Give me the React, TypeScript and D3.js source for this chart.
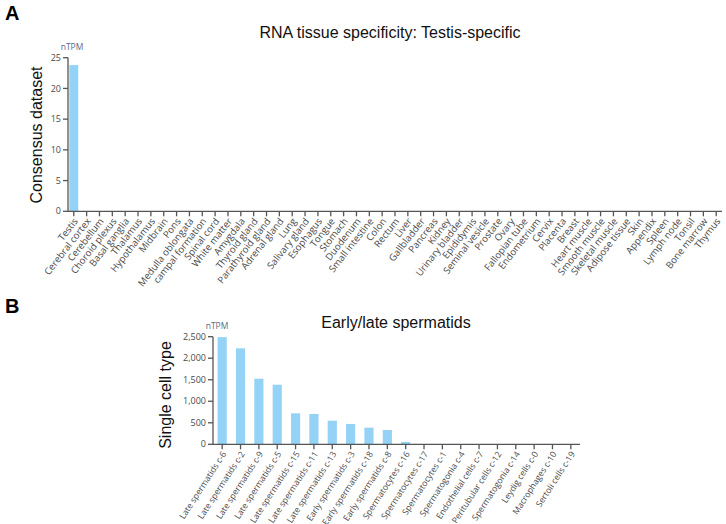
import React from "react";
import * as d3 from "d3";

const tissues = ["Testis","Cerebral cortex","Cerebellum","Choroid plexus","Basal ganglia","Thalamus","Hypothalamus","Midbrain","Pons","Medulla oblongata","campal formation","Spinal cord","White matter","Amygdala","Thyroid gland","Parathyroid gland","Adrenal gland","Lung","Salivary gland","Esophagus","Tongue","Stomach","Duodenum","Small intestine","Colon","Rectum","Liver","Gallbladder","Pancreas","Kidney","Urinary bladder","Epididymis","Seminal vesicle","Prostate","Ovary","Fallopian tube","Endometrium","Cervix","Placenta","Breast","Heart muscle","Smooth muscle","Skeletal muscle","Adipose tissue","Skin","Appendix","Spleen","Lymph node","Tonsil","Bone marrow","Thymus"];
const tissueValues = [23.8,0,0,0,0,0,0,0,0,0,0,0,0,0,0,0,0,0,0,0,0,0,0,0,0,0,0,0,0,0,0,0,0,0,0,0,0,0,0,0,0,0,0,0,0,0,0,0,0,0,0];
const tissueTicks = [0,5,10,15,20,25];

const cells = ["Late spermatids c-6","Late spermatids c-2","Late spermatids c-9","Late spermatids c-5","Late spermatids c-15","Late spermatids c-11","Late spermatids c-13","Early spermatids c-3","Early spermatids c-18","Early spermatids c-8","Spermatocytes c-16","Spermatocytes c-17","Spermatocytes c-1","Spermatogonia c-4","Endothelial cells c-7","Peritubular cells c-12","Spermatogonia c-14","Leydig cells c-0","Macrophages c-10","Sertoli cells c-19"];
const cellValues = [2490,2230,1524,1385,720,705,548,472,386,332,55,0,0,0,0,0,0,0,0,0];
const cellTicks = [0,500,1000,1500,2000,2500];

const BAR = "#94d3f6";
const AXIS = "#555";
const TXT = "#4a4a4a";
const LBL_FONT = "'Open Sans', 'DejaVu Sans', sans-serif";
const MAIN_FONT = "'Liberation Sans', Arial, sans-serif";

type PanelProps = {
  cats: string[]; vals: number[]; ticks: number[]; domainMax: number;
  x0: number; x1: number; yTop: number; yBottom: number;
  padIn: number; padOut: number; angle: number; fmt: (v: number) => string;
  labelSize: number;
};

function Panel(p: PanelProps) {
  const x = d3.scaleBand<string>().domain(p.cats).range([p.x0, p.x1]).paddingInner(p.padIn).paddingOuter(p.padOut);
  const y = d3.scaleLinear().domain([0, p.domainMax]).range([p.yBottom, p.yTop]);
  return (
    <g>
      {p.cats.map((c, i) => (
        p.vals[i] > 0 ? <rect key={c} x={x(c)} y={y(p.vals[i])} width={x.bandwidth()} height={y(0) - y(p.vals[i])} fill={BAR} /> : null
      ))}
      <line x1={p.x0} x2={p.x0} y1={y(p.domainMax)} y2={y(0)} stroke={AXIS} strokeWidth={1.3} />
      <line x1={p.x0} x2={p.x1} y1={y(0)} y2={y(0)} stroke={AXIS} strokeWidth={1.3} />
      {p.ticks.map(t => (
        <g key={t}>
          <line x1={p.x0 - 5} x2={p.x0} y1={y(t)} y2={y(t)} stroke={AXIS} strokeWidth={1.3} />
          <text x={p.x0 - 7} y={y(t)} dy="0.35em" textAnchor="end" fontSize={9} fill={TXT} fontFamily={LBL_FONT}>{p.fmt(t)}</text>
        </g>
      ))}
      {p.cats.map(c => {
        const cx = (x(c) as number) + x.bandwidth() / 2;
        return (
          <g key={c}>
            <line x1={cx} x2={cx} y1={y(0)} y2={y(0) + 5} stroke={AXIS} strokeWidth={1.3} />
            <text transform={`translate(${cx + 2},${y(0) + 8}) rotate(${p.angle})`} textAnchor="end" dy="0.35em" fontSize={p.labelSize} fill={TXT} fontFamily={LBL_FONT}>{c}</text>
          </g>
        );
      })}
      <text x={p.x0 + 4} y={p.yTop - 8} textAnchor="middle" fontSize={8.5} fill="#5a6b88" fontFamily={LBL_FONT}>nTPM</text>
    </g>
  );
}

export default function App() {
  return (
    <svg width={726} height={524} style={{ position: "absolute", left: 0, top: 0, background: "#fff" }}>
      <rect width={726} height={524} fill="#fff" />
      <text x={5} y={20} fontSize={20} fontWeight="bold" fontFamily={MAIN_FONT} fill="#000">A</text>
      <text x={390} y={38} textAnchor="middle" fontSize={16} fontFamily={MAIN_FONT} fill="#111">RNA tissue specificity: Testis-specific</text>
      <text transform="translate(42,135) rotate(-90)" textAnchor="middle" fontSize={16} fontFamily={MAIN_FONT} fill="#111">Consensus dataset</text>
      <Panel cats={tissues} vals={tissueValues} ticks={tissueTicks} domainMax={25}
        x0={68} x1={722} yTop={57.7} yBottom={211.3} padIn={0.3} padOut={0.1} angle={-52}
        fmt={d3.format("d")} labelSize={9.6} />

      <text x={5} y={313} fontSize={20} fontWeight="bold" fontFamily={MAIN_FONT} fill="#000">B</text>
      <text x={396} y={328} textAnchor="middle" fontSize={16} fontFamily={MAIN_FONT} fill="#111">Early/late spermatids</text>
      <text transform="translate(171,395) rotate(-90)" textAnchor="middle" fontSize={16} fontFamily={MAIN_FONT} fill="#111">Single cell type</text>
      <Panel cats={cells} vals={cellValues} ticks={cellTicks} domainMax={2500}
        x0={213} x1={580} yTop={336.7} yBottom={444.3} padIn={0.5} padOut={0.25} angle={-57}
        fmt={d3.format(",")} labelSize={8.6} />
    </svg>
  );
}
